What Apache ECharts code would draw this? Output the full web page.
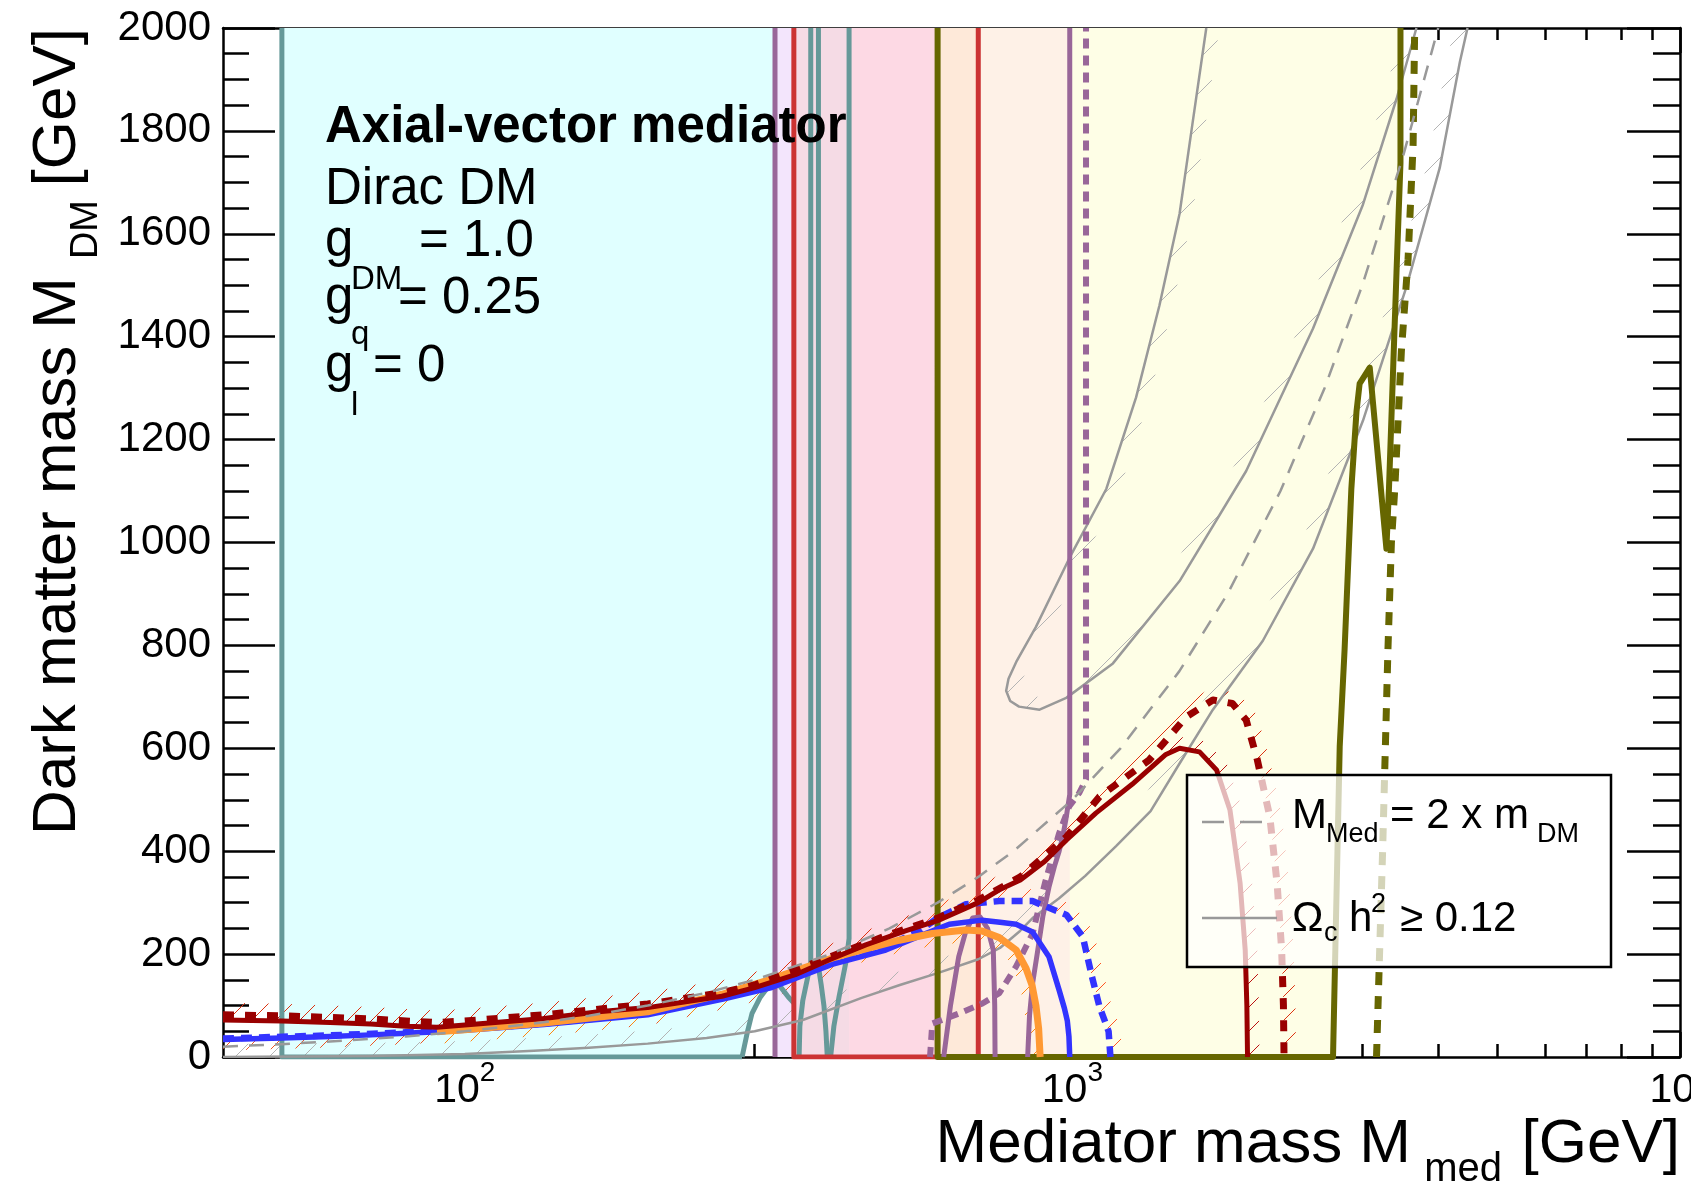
<!DOCTYPE html>
<html><head><meta charset="utf-8">
<script src="https://cdn.jsdelivr.net/npm/echarts@6/dist/echarts.min.js"></script>
<style>html,body{margin:0;padding:0;background:#fff}#c{width:1691px;height:1188px}</style>
</head><body><div id="c"></div>
<script>
// ---------------- axis ranges & ticks ----------------
const xMin = 40, xMax = 10000, yMin = 0, yMax = 2000;
const xMajorTicks = [100, 1000, 10000];
const xMinorTicks = [50,60,70,80,90,200,300,400,500,600,700,800,900,2000,3000,4000,5000,6000,7000,8000,9000];
const yMajorStep = 200, yMinorStep = 50;

// ---------------- excluded regions (M_med, M_DM) ----------------
const cyanRegion   = [[50,0],[50,2000],[324,2000],[324,140],[315,135],[306,115],[297,85],[292,50],[286,0]];
const yellowRegion = [[600,0],[600,2000],[3467,2000],[3467,1738],[3415,1524],[3319,1104],[3287,988],[3086,1340],[2970,1309],[2935,1255],[2878,1104],[2805,791],[2754,604],[2685,0]];
const bandEdges    = [[324,348],[348,429],[429,600],[600,700],[700,990]];

// ---------------- contour lines ----------------
const tealEdge     = [[286,0],[50,0],[50,2000]];
const tealCurve1   = [[286,0],[292,50],[297,85],[306,115],[315,135],[322,142],[329,140],[335,128],[341,116],[348,105]];
const tealCurve2   = [[371,2000],[371,185],[366,150],[360,110],[356,60],[355,0]];
const tealCurve3   = [[382,2000],[382,175],[386,140],[390,100],[393,50],[395,0]];
const tealCurve4   = [[429,2000],[429,230],[424,185],[413,117],[405,60],[400,0]];
const purpleLine   = [[324,0],[324,2000]];
const redLine1     = [[348,2000],[348,0],[600,0]];
const redLine2     = [[700,0],[700,2000]];
const oliveContour = [[600,2000],[600,0],[2685,0],[2754,604],[2805,791],[2878,1104],[2935,1255],[2970,1309],[3086,1340],[3287,988],[3319,1104],[3415,1524],[3467,1738],[3467,2000]];
const oliveDashed  = [[3166,0],[3240,400],[3306,791],[3350,1000],[3393,1104],[3479,1372],[3568,1550],[3637,1773],[3659,2000]];
const purpleArch   = [[614,0],[630,100],[650,195],[668,245],[685,270],[705,272],[725,250],[741,208],[745,100],[746,0]];
const purpleRight  = [[990,2000],[990,510],[975,460],[964,428],[951,400],[934,370],[915,330],[894,273],[875,200],[860,143],[850,80],[844,0]];
const purpleDashed = [[583,0],[588,65],[652,85],[711,104],[758,124],[808,176],[860,240],[901,338],[951,435],[988,487],[1026,513],[1053,540],[1053,2000]];

const graySolidLow = [[40,0],[70,2],[100,6],[130,12],[160,18],[200,26],[250,37],[300,50],[360,72],[450,115],[520,140],[600,163],[700,190],[760,212],[820,245],[860,270],[950,308],[1050,352],[1180,410],[1345,478],[1500,570],[1703,675],[2058,809],[2489,988],[3008,1237],[3546,1497],[4023,1728],[4342,1934],[4470,2000]];
const grayLoop     = [[1661,2000],[1578,1818],[1501,1639],[1391,1461],[1273,1282],[1137,1104],[989,970],[871,836],[810,770],[785,735],[778,712],[790,692],[817,681],[883,675],[977,698],[1166,765],[1501,925],[1932,1139],[2489,1416],[3008,1657],[3415,1862],[3683,2000]];
const grayDiagonal = [[40,20],[50,25],[60,30],[80,40],[100,50],[130,65],[160,80],[200,100],[250,125],[300,150],[400,200],[500,250],[600,300],[700,350],[800,400],[1000,500],[1200,600],[1500,750],[1800,900],[2200,1100],[2600,1300],[3000,1500],[3500,1750],[4000,2000]];

const redObs    = [[40,72],[50,70],[60,67],[70,64],[80,60],[90,58],[100,62],[135,75],[166,88],[200,96],[265,118],[300,135],[350,160],[400,190],[457,218],[531,245],[600,265],[700,300],[758,325],[821,344],[900,380],[978,422],[1093,474],[1254,530],[1425,588],[1501,600],[1619,593],[1727,558],[1817,480],[1888,338],[1925,208],[1937,100],[1942,0]];
const redExp    = [[40,82],[50,80],[60,77],[70,74],[80,70],[90,67],[100,70],[135,82],[200,103],[265,125],[300,140],[400,195],[500,238],[600,270],[700,305],[821,350],[978,428],[1108,506],[1337,577],[1539,661],[1703,694],[1834,687],[1932,655],[2016,577],[2113,467],[2172,338],[2210,208],[2225,100],[2230,0]];
const blueObs   = [[40,34],[50,37],[60,40],[70,43],[80,46],[90,49],[100,52],[135,63],[200,82],[265,112],[320,135],[402,180],[493,208],[560,235],[627,258],[710,266],[760,262],[808,258],[860,243],[915,195],[951,130],[970,95],[981,70],[987,40],[990,0]];
const blueExp   = [[40,36],[60,42],[80,48],[100,54],[135,65],[200,85],[265,116],[320,140],[402,185],[493,215],[560,245],[600,270],[668,297],[758,303],[860,303],[978,276],[1040,234],[1077,156],[1108,98],[1147,50],[1155,0]];
const orangeObs = [[90,49],[100,53],[135,66],[200,88],[244,112],[265,122],[313,148],[402,192],[457,210],[519,227],[588,240],[668,247],[710,245],[758,232],[808,208],[839,172],[858,140],[871,100],[880,55],[885,0]];

// ---------------- styles ----------------
const FONT = '"Liberation Sans", Arial, Helvetica, sans-serif';
const bandColors = ['#f3e5fc','#f5dbe5','#fdd9e4','#fee9d9','#fef1e7'];
const C = {teal:'#669999', purple:'#996699', red:'#cc3333', olive:'#666600', dred:'#990000',
           blue:'#3333ff', orange:'#ff9933', gray:'#999999'};

function makeHatch(color, p){
  const c = document.createElement('canvas'); c.width = p; c.height = p;
  const g = c.getContext('2d'); g.strokeStyle = color; g.lineWidth = 1;
  g.beginPath();
  g.moveTo(0,p); g.lineTo(p,0);
  g.moveTo(-p/2,p/2); g.lineTo(p/2,-p/2);
  g.moveTo(p/2,p*1.5); g.lineTo(p*1.5,p/2);
  g.stroke(); return c;
}
function polySeries(points, color, z){
  return {type:'custom', coordinateSystem:'cartesian2d', xAxisIndex:0, yAxisIndex:0, z, silent:true, clip:true,
    data:[points[0]], encode:{x:0, y:1},
    renderItem:(params, api)=>({type:'polygon', shape:{points:points.map(p=>api.coord(p))}, style:{fill:color}})};
}
function hatchSeries(points, side, width, color, period, z){
  const pat = makeHatch(color, period);
  return {type:'custom', coordinateSystem:'cartesian2d', xAxisIndex:0, yAxisIndex:0, z, silent:true, clip:true,
    data:[points[0]], encode:{x:0, y:1},
    renderItem:(params, api)=>{
      const P = points.map(p=>api.coord(p));
      const off = [];
      for (let i=0;i<P.length;i++){
        let nx=0, ny=0;
        if (i>0){const dx=P[i][0]-P[i-1][0], dy=P[i][1]-P[i-1][1], l=Math.hypot(dx,dy)||1; nx+=dy/l; ny+=-dx/l;}
        if (i<P.length-1){const dx=P[i+1][0]-P[i][0], dy=P[i+1][1]-P[i][1], l=Math.hypot(dx,dy)||1; nx+=dy/l; ny+=-dx/l;}
        const l=Math.hypot(nx,ny)||1;
        off.push([P[i][0]+side*width*nx/l, P[i][1]+side*width*ny/l]);
      }
      return {type:'polygon', shape:{points:P.concat(off.reverse())}, style:{fill:{image:pat, repeat:'repeat'}}};
    }};
}
function line(data, color, width, type, z){
  return {type:'line', data, xAxisIndex:0, yAxisIndex:0, showSymbol:false, symbol:'none', silent:true, clip:true, z,
    lineStyle:{color, width, type:type||'solid', cap:'butt', join:'round'}};
}

const series = [];
series.push(polySeries(yellowRegion, '#fefee6', 1));
series.push(polySeries(cyanRegion, '#e0ffff', 2));
bandEdges.forEach((e,i)=>series.push(polySeries([[e[0],yMin],[e[0],yMax],[e[1],yMax],[e[1],yMin]], bandColors[i], 2)));
// hatches
series.push(hatchSeries(graySolidLow, 1, 13, '#b4b4b4', 34, 3));
series.push(hatchSeries(grayLoop, 1, 13, '#b4b4b4', 34, 3));
series.push(hatchSeries(redObs, 1, 12, '#bb1111', 24, 3));
series.push(hatchSeries(redExp, 1, 12, '#dd3311', 24, 3));
series.push(hatchSeries(blueExp.slice(9), 1, 12, '#ff5522', 24, 3));
series.push(hatchSeries(blueExp.slice(0, 9), -1, 12, '#ee5522', 24, 3));
series.push(hatchSeries(orangeObs, -1, 12, '#ff8811', 24, 3));
// vertical / contour lines
series.push(line(tealEdge, C.teal, 5, 'solid', 4));
series.push(line(tealCurve1, C.teal, 5, 'solid', 4));
series.push(line(tealCurve2, C.teal, 5, 'solid', 4));
series.push(line(tealCurve3, C.teal, 5, 'solid', 4));
series.push(line(tealCurve4, C.teal, 5, 'solid', 4));
series.push(line(purpleLine, C.purple, 5, 'solid', 4));
series.push(line(redLine1, C.red, 5, 'solid', 4));
series.push(line(redLine2, C.red, 5, 'solid', 4));
series.push(line(graySolidLow, C.gray, 2.5, 'solid', 5));
series.push(line(grayLoop, C.gray, 2.5, 'solid', 5));
series.push(line(oliveContour, C.olive, 6, 'solid', 5));
series.push(line(oliveDashed, C.olive, 7, [13,11], 5));
series.push(line(purpleArch, C.purple, 5, 'solid', 5));
series.push(line(purpleRight, C.purple, 5, 'solid', 5));
series.push(line(purpleDashed, C.purple, 6, [10,7], 5));
series.push(line(blueObs, C.blue, 5.5, 'solid', 6));
series.push(line(blueExp, C.blue, 6.5, [11,7], 6));
series.push(line(orangeObs, C.orange, 7, 'solid', 7));
series.push(line(redExp, C.dred, 7, [11,11], 8));
series.push(line(redObs, C.dred, 5, 'solid', 8));
series.push(line(grayDiagonal, C.gray, 2.5, [15,11], 9));

function xAxisDef(pos, ticks, len, labels){
  return {type:'log', logBase:10, min:xMin, max:xMax, position:pos,
    axisLine:{show:labels!==null, onZero:false, lineStyle:{color:'#000', width:2.5}},
    axisTick:{show:true, inside:true, length:len, customValues:ticks, lineStyle:{color:'#000', width:2.5}},
    axisLabel: labels ? {show:true, customValues:xMajorTicks, margin:2, color:'#000',
      formatter:v=>'{b|10}{s|'+Math.round(Math.log10(v))+'}',
      rich:{b:{fontSize:41, fontFamily:FONT, color:'#000', lineHeight:64, verticalAlign:'middle'},
            s:{fontSize:28, fontFamily:FONT, color:'#000', lineHeight:28, verticalAlign:'top'}}} : {show:false},
    splitLine:{show:false}, minorTick:{show:false}, minorSplitLine:{show:false}};
}
function yAxisDef(pos, step, len, labels, lineShow){
  return {type:'value', min:yMin, max:yMax, interval:step, position:pos,
    axisLine:{show:lineShow, onZero:false, lineStyle:{color:'#000', width:2.5}},
    axisTick:{show:true, inside:true, length:len, lineStyle:{color:'#000', width:2.5}},
    axisLabel: labels ? {show:true, margin:12, fontSize:42, fontFamily:FONT, color:'#000', formatter:v=>String(v)} : {show:false},
    splitLine:{show:false}};
}

function txt(text, x, baseline, size, opt){
  opt = opt || {};
  return {type:'text', x, y: baseline - 0.33*size, z:100, silent:true,
    style:{text, fontSize:size, fontFamily:FONT, fontWeight:opt.bold?'bold':'normal', fill:'#000',
           align:opt.align||'left', verticalAlign:'middle'}};
}
function rtxt(text, baselineX, endY, size){
  return {type:'text', x: baselineX - 0.33*size, y: endY, rotation: Math.PI/2, z:100, silent:true,
    style:{text, fontSize:size, fontFamily:FONT, fill:'#000', align:'right', verticalAlign:'middle'}};
}

const graphic = [
  // annotation
  txt('Axial-vector mediator', 325, 145, 51, {bold:true}),
  txt('Dirac DM', 325, 207, 51),
  txt('g', 325, 259, 51), txt('DM', 351, 291, 33), txt('= 1.0', 419, 259, 51),
  txt('g', 325, 316, 51), txt('q', 351, 346, 33), txt('= 0.25', 398, 316, 51),
  txt('g', 325, 384, 51), txt('l', 351, 417, 33), txt('= 0', 373, 384, 51),
  // axis titles
  txt('[GeV]', 1680, 1165, 62, {align:'right'}),
  txt('med', 1502, 1183, 40, {align:'right'}),
  txt('Mediator mass M', 1411, 1165, 62, {align:'right'}),
  rtxt('[GeV]', 78.5, 28, 62),
  rtxt('DM', 99.5, 200, 38),
  rtxt('Dark matter mass M', 78.5, 277, 62),
  // legend
  {type:'rect', z:99, silent:true, shape:{x:1187, y:775, width:424, height:192},
   style:{fill:'rgba(255,255,255,0.72)', stroke:'#000', lineWidth:2.5}},
  {type:'line', z:100, silent:true, shape:{x1:1202, y1:822, x2:1262, y2:822}, style:{stroke:C.gray, lineWidth:2.5, lineDash:[22,16]}},
  {type:'line', z:100, silent:true, shape:{x1:1202, y1:918, x2:1277, y2:918}, style:{stroke:C.gray, lineWidth:2.5}},
  txt('M', 1292, 830, 42), txt('Med', 1326, 843, 27), txt('= 2 x m', 1390, 830, 42), txt('DM', 1537, 843, 27),
  txt('\u03A9', 1292, 933, 42), txt('c', 1324, 942, 27), txt('h', 1349, 933, 42), txt('2', 1371, 913, 27), txt('\u2265 0.12', 1400, 933, 42)
];

const chart = echarts.init(document.getElementById('c'), null, {renderer:'canvas'});
chart.setOption({
  animation:false,
  backgroundColor:'#fff',
  textStyle:{fontFamily:FONT},
  grid:{left:223, right:11, top:28, bottom:131, containLabel:false, outerBoundsMode:'none'},
  xAxis:[
    xAxisDef('bottom', xMajorTicks, 25, true),
    xAxisDef('bottom', xMinorTicks, 13, null),
    xAxisDef('top', xMajorTicks, 25, false),
    xAxisDef('top', xMinorTicks, 12, null)
  ],
  yAxis:[
    yAxisDef('left', yMajorStep, 52, true, true),
    yAxisDef('left', yMinorStep, 26, false, false),
    yAxisDef('right', yMajorStep, 53, false, true),
    yAxisDef('right', yMinorStep, 27, false, false)
  ],
  series,
  graphic
});
</script>
</body></html>
